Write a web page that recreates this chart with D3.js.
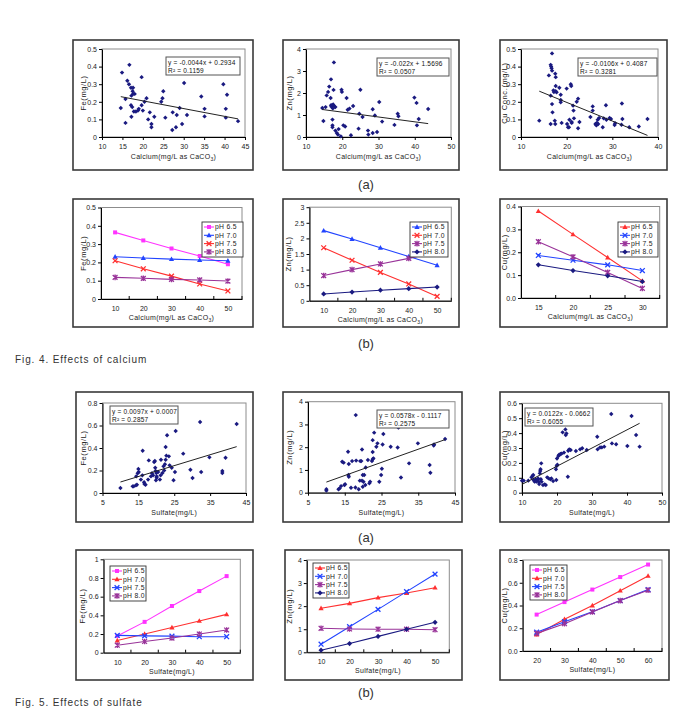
<!DOCTYPE html>
<html>
<head>
<meta charset="utf-8">
<script src="https://cdn.jsdelivr.net/npm/d3@7"></script>
<style>
  body { margin: 0; background: #fff; }
  svg text { font-family: "Liberation Sans", Arial, sans-serif; }
</style>
</head>
<body>
<div id="fig"></div>
<script>
// ---- scatter data (x, y) ----
const feCalcium = [[14.6,0.165],[14.9,0.366],[15.75,0.216],[15.75,0.08],[16.2,0.32],[16.6,0.30],[16.7,0.41],[17.1,0.28],[17.2,0.235],[17.1,0.18],[17.4,0.17],[17.2,0.115],[17.5,0.26],[17.6,0.28],[17.6,0.245],[17.8,0.145],[18.0,0.245],[18.3,0.145],[18.8,0.15],[19.0,0.16],[19.7,0.34],[19.7,0.18],[20.0,0.15],[20.4,0.20],[20.9,0.22],[21.3,0.10],[21.7,0.14],[22.1,0.074],[22.1,0.055],[22.8,0.115],[24.5,0.20],[24.8,0.22],[25.0,0.26],[25.5,0.11],[27.2,0.04],[27.3,0.14],[28.1,0.055],[28.3,0.125],[29.0,0.165],[29.6,0.074],[30.1,0.307],[30.8,0.125],[34.3,0.23],[35.1,0.16],[35.1,0.117],[39.7,0.30],[40.3,0.16],[40.3,0.11],[40.6,0.24],[43.3,0.09]];
const znCalcium = [[14.5,1.32],[14.8,0.73],[15.4,1.36],[15.7,1.89],[16.1,2.05],[16.4,2.29],[16.8,1.77],[16.9,1.44],[16.9,2.62],[17.0,1.38],[17.2,1.44],[17.3,0.79],[17.3,0.53],[17.3,0.44],[17.4,1.30],[17.5,1.48],[17.6,2.14],[17.7,3.39],[17.9,1.39],[18.1,1.36],[18.1,0.29],[18.5,0.18],[18.8,0.11],[19.0,0.36],[19.6,0.03],[19.8,2.15],[19.9,2.05],[20.3,0.53],[20.8,0.48],[21.2,1.77],[21.5,1.24],[22.0,1.29],[22.4,0.08],[23.0,1.41],[24.5,0.38],[24.7,1.06],[25.0,2.15],[25.6,0.91],[27.1,0.29],[27.2,0.11],[28.4,0.18],[28.4,1.26],[29.0,0.98],[29.6,0.23],[30.2,1.59],[31.0,0.70],[34.4,0.55],[35.3,1.06],[35.5,0.94],[39.9,1.79],[40.5,1.55],[40.6,0.53],[41.1,0.82],[43.7,1.27]];
const cuCalcium = [[14.0,0.093],[16.1,0.35],[16.5,0.074],[16.5,0.235],[16.5,0.41],[16.6,0.40],[16.7,0.39],[16.8,0.475],[16.8,0.377],[16.8,0.187],[16.9,0.14],[17.1,0.265],[17.2,0.256],[17.4,0.093],[17.5,0.074],[17.5,0.36],[17.6,0.34],[17.6,0.26],[17.6,0.29],[17.8,0.254],[18.4,0.28],[18.7,0.21],[18.7,0.24],[18.7,0.197],[18.9,0.08],[20.0,0.275],[20.1,0.074],[20.3,0.055],[20.5,0.055],[20.6,0.098],[20.9,0.30],[21.0,0.29],[21.1,0.08],[21.1,0.085],[21.4,0.178],[21.5,0.15],[21.6,0.106],[22.2,0.20],[22.5,0.218],[22.5,0.05],[22.8,0.085],[25.2,0.114],[25.7,0.174],[25.7,0.15],[26.3,0.074],[26.5,0.066],[26.6,0.08],[26.8,0.098],[26.9,0.074],[27.1,0.108],[27.9,0.055],[28.1,0.106],[28.6,0.18],[28.7,0.098],[29.4,0.108],[29.7,0.102],[30.5,0.068],[30.6,0.078],[32.0,0.07],[32.1,0.19],[32.2,0.102],[33.7,0.055],[35.8,0.06],[37.7,0.102]];
const feSulfate = [[10.0,0.044],[13.4,0.059],[13.7,0.059],[14.3,0.068],[14.4,0.148],[14.6,0.074],[14.8,0.175],[15.0,0.213],[15.1,0.187],[15.7,0.119],[16.1,0.157],[16.2,0.376],[16.6,0.095],[16.7,0.08],[17.0,0.074],[17.7,0.119],[17.9,0.29],[18.5,0.148],[18.8,0.175],[19.1,0.157],[19.4,0.275],[19.6,0.284],[19.7,0.225],[19.8,0.196],[19.9,0.113],[20.0,0.178],[20.1,0.136],[20.1,0.148],[20.5,0.187],[21.0,0.119],[21.2,0.157],[21.3,0.296],[21.7,0.178],[22.0,0.237],[22.2,0.201],[22.4,0.255],[22.6,0.409],[22.6,0.296],[22.8,0.332],[23.0,0.513],[23.5,0.326],[23.7,0.246],[24.3,0.225],[24.8,0.113],[25.2,0.187],[25.4,0.551],[27.5,0.35],[29.5,0.207],[30.1,0.133],[32.2,0.631],[32.5,0.187],[34.8,0.317],[38.4,0.196],[38.4,0.178],[39.3,0.314],[42.4,0.613]];
const znSulfate = [[10.0,0.15],[10.0,0.09],[13.3,0.15],[13.6,0.19],[14.0,0.29],[14.3,1.36],[14.7,1.32],[14.9,0.34],[15.1,0.37],[15.9,1.80],[16.0,0.78],[16.1,1.26],[16.1,0.70],[16.7,0.22],[17.0,1.39],[17.9,0.23],[18.0,3.41],[18.1,1.41],[18.8,0.15],[19.1,0.53],[19.2,1.39],[19.5,1.39],[19.7,1.90],[19.7,0.53],[19.9,0.26],[19.9,0.78],[20.1,0.48],[20.3,0.78],[20.6,0.34],[20.7,1.11],[21.3,1.44],[21.7,0.41],[21.9,0.48],[22.4,1.39],[22.6,1.47],[22.6,1.79],[22.6,2.31],[22.8,1.51],[23.0,2.64],[23.6,2.02],[23.9,2.17],[24.4,0.48],[24.9,0.78],[25.1,1.05],[25.3,2.12],[25.5,2.58],[27.5,2.02],[29.4,1.99],[29.6,2.86],[30.3,0.67],[32.5,1.29],[34.9,2.17],[38.1,1.22],[38.3,0.88],[39.2,2.07],[39.3,2.12],[42.3,2.36]];
const cuSulfate = [[10.0,0.081],[10.5,0.081],[11.8,0.081],[12.7,0.103],[13.0,0.112],[13.2,0.119],[13.3,0.085],[13.6,0.074],[13.9,0.09],[14.1,0.074],[14.4,0.085],[14.6,0.096],[14.8,0.074],[14.9,0.058],[15.1,0.13],[15.2,0.146],[15.3,0.157],[15.4,0.09],[15.5,0.197],[15.6,0.074],[16.0,0.051],[16.5,0.056],[16.8,0.051],[17.2,0.103],[17.6,0.096],[18.1,0.09],[18.4,0.096],[18.9,0.078],[19.7,0.157],[19.8,0.085],[19.9,0.179],[20.0,0.23],[20.1,0.188],[20.4,0.246],[20.6,0.255],[21.0,0.26],[21.3,0.262],[21.6,0.405],[22.0,0.269],[22.4,0.425],[22.5,0.387],[22.7,0.398],[22.9,0.242],[23.1,0.107],[23.2,0.282],[23.5,0.484],[23.5,0.291],[23.9,0.287],[25.4,0.28],[26.6,0.291],[27.2,0.298],[28.5,0.287],[31.5,0.376],[31.6,0.291],[32.3,0.304],[32.8,0.304],[33.5,0.309],[35.5,0.528],[35.7,0.331],[36.9,0.325],[40.1,0.313],[41.3,0.515],[42.6,0.387],[43.6,0.309]];

// trend lines: slope, intercept ; and their printed labels
const fitCoef = [[-0.0044,0.2934],[-0.022,1.5696],[-0.0106,0.4087],[0.0097,0.0007],[0.0578,-0.1117],[0.0122,-0.0662]];
const fitText = [
  ['y = -0.0044x + 0.2934','R² = 0.1159'],
  ['y = -0.022x + 1.5696','R² = 0.0507'],
  ['y = -0.0106x + 0.4087','R² = 0.3281'],
  ['y = 0.0097x + 0.0007','R² = 0.2857'],
  ['y = 0.0578x - 0.1117','R² = 0.2575'],
  ['y = 0.0122x - 0.0662','R² = 0.6055']
];

// ---- line chart data (pH 6.5, 7.0, 7.5, 8.0) ----
const phLabels = ['pH 6.5','pH 7.0','pH 7.5','pH 8.0'];
const calciumLevels = [10,20,30,40,50];
const calciumLevelsCu = [15,20,25,30];
const sulfateLevels = [10,20,30,40,50];
const sulfateLevelsCu = [20,30,40,50,60];

const feCaPh = [[0.364,0.320,0.276,0.235,0.190],[0.231,0.224,0.218,0.213,0.209],[0.209,0.165,0.125,0.082,0.044],[0.118,0.113,0.107,0.104,0.098]];
const znCaPh = [[2.25,1.98,1.70,1.42,1.14],[1.70,1.30,0.91,0.54,0.14],[0.81,1.00,1.18,1.36,1.56],[0.22,0.28,0.34,0.39,0.44]];
const cuCaPh = [[0.38,0.278,0.177,0.075],[0.186,0.165,0.145,0.12],[0.246,0.18,0.112,0.042],[0.145,0.12,0.097,0.072]];
const feSoPh = [[0.18,0.33,0.50,0.66,0.82],[0.13,0.20,0.27,0.34,0.41],[0.186,0.18,0.178,0.171,0.171],[0.08,0.12,0.157,0.20,0.243]];
const znSoPh = [[1.91,2.12,2.37,2.57,2.80],[0.35,1.11,1.86,2.63,3.39],[1.04,1.01,1.0,1.0,0.98],[0.09,0.38,0.69,1.0,1.30]];
const cuSoPh = [[0.32,0.43,0.54,0.65,0.76],[0.145,0.28,0.40,0.53,0.66],[0.165,0.258,0.346,0.443,0.54],[0.155,0.24,0.343,0.443,0.535]];

let width = 685, height = 709;
let svg = d3.select('#fig').append('svg')
  .attr('width', width)
  .attr('height', height)
  .style('background', '#fff');

const MAG = '#ff33ff', BLUE = '#2244ff', RED = '#ff3030', PUR = '#993399', NAVY = '#1a1a80';

// outer frame of each little chart
function frame(x0, y0, x1, y1) {
  svg.append('rect')
    .attr('x', x0).attr('y', y0)
    .attr('width', x1 - x0).attr('height', y1 - y0)
    .attr('fill', 'none').attr('stroke', '#3a3a3a').attr('stroke-width', 1.6);
}

function styleAxis(g) {
  g.select('.domain').attr('stroke', '#000');
  g.selectAll('.tick line').attr('stroke', '#000');
  g.selectAll('.tick text').attr('font-size', 7).attr('fill', '#222');
}

function yTitle(x, y, txt) {
  svg.append('text')
    .attr('transform', `translate(${x},${y}) rotate(-90)`)
    .attr('text-anchor', 'middle')
    .attr('font-size', 7.5).attr('letter-spacing', 0.6).attr('fill', '#222')
    .text(txt);
}

function xTitle(x, y, txt, sub) {
  let t = svg.append('text')
    .attr('x', x).attr('y', y)
    .attr('text-anchor', 'middle')
    .attr('font-size', 7).attr('letter-spacing', 0.3).attr('fill', '#222');
  if (sub) {
    t.append('tspan').text('Calcium(mg/L as CaCO');
    t.append('tspan').attr('font-size', 5).attr('dy', 2).text('3');
    t.append('tspan').attr('dy', -2).text(')');
  } else {
    t.text(txt);
  }
}

function marker(g, type, cx, cy, color, size) {
  let s = 2.4, d = size || 2.6;
  if (type === 'square') {
    g.append('rect').attr('x', cx - 2).attr('y', cy - 2).attr('width', 4).attr('height', 4).attr('fill', color);
  } else if (type === 'triangle') {
    g.append('path').attr('d', `M${cx},${cy - 2.7}L${cx + 2.6},${cy + 1.9}L${cx - 2.6},${cy + 1.9}Z`).attr('fill', color);
  } else if (type === 'diamond') {
    g.append('path').attr('d', `M${cx},${cy - d}L${cx + d},${cy}L${cx},${cy + d}L${cx - d},${cy}Z`).attr('fill', color);
  } else if (type === 'x') {
    g.append('path').attr('d', `M${cx - s},${cy - s}L${cx + s},${cy + s}M${cx - s},${cy + s}L${cx + s},${cy - s}`)
      .attr('stroke', color).attr('stroke-width', 1.3);
  } else if (type === 'star') {
    g.append('path').attr('d', `M${cx - s},${cy - s}L${cx + s},${cy + s}M${cx - s},${cy + s}L${cx + s},${cy - s}M${cx},${cy - 2.8}L${cx},${cy + 2.8}`)
      .attr('stroke', color).attr('stroke-width', 1.3);
  }
}

// ---- scatter panel with linear trend ----
function scatter(p) {
  let x = d3.scaleLinear().domain(p.xDomain).range([p.left, p.right]);
  let y = d3.scaleLinear().domain(p.yDomain).range([p.bottom, p.top]);

  svg.append('rect')
    .attr('x', p.left).attr('y', p.top)
    .attr('width', p.right - p.left).attr('height', p.bottom - p.top)
    .attr('fill', 'none').attr('stroke', '#8c8c8c').attr('stroke-width', 1);

  let gx = svg.append('g').attr('transform', `translate(0,${p.bottom})`)
    .call(d3.axisBottom(x).tickValues(p.xTicks).tickSize(3).tickSizeOuter(0).tickPadding(4).tickFormat(d3.format('')));
  styleAxis(gx);
  let gy = svg.append('g').attr('transform', `translate(${p.left},0)`)
    .call(d3.axisLeft(y).tickValues(p.yTicks).tickSize(3).tickSizeOuter(0).tickPadding(2).tickFormat(d3.format(p.yFmt || '')));
  styleAxis(gy);

  let g = svg.append('g');
  p.data.forEach(d => marker(g, 'diamond', x(d[0]), y(d[1]), NAVY, 2.2));

  let ext = d3.extent(p.data, d => d[0]);
  let f = v => p.fit[0] * v + p.fit[1];
  svg.append('line')
    .attr('x1', x(ext[0])).attr('y1', y(f(ext[0])))
    .attr('x2', x(ext[1])).attr('y2', y(f(ext[1])))
    .attr('stroke', '#222').attr('stroke-width', 1);

  let b = p.box;
  svg.append('rect').attr('x', b[0]).attr('y', b[1]).attr('width', b[2]).attr('height', 18)
    .attr('fill', '#fff').attr('stroke', '#555').attr('stroke-width', 1);
  p.label.forEach((t, i) => {
    svg.append('text').attr('x', b[0] + 2).attr('y', b[1] + 7.5 + i * 8)
      .attr('font-size', 6.5).attr('fill', '#111').attr('letter-spacing', 0.2).text(t);
  });

  yTitle(p.yTitleX, (p.top + p.bottom) / 2, p.yLabel);
  xTitle((p.left + p.right) / 2, p.bottom + 22, p.xLabel, p.sub);
}

// ---- line panel (categorical x) with legend ----
function linePanel(p) {
  let x = d3.scalePoint().domain(p.cats).range([p.left, p.right]).padding(0.5);
  let y = d3.scaleLinear().domain(p.yDomain).range([p.bottom, p.top]);

  svg.append('rect')
    .attr('x', p.left).attr('y', p.top)
    .attr('width', p.right - p.left).attr('height', p.bottom - p.top)
    .attr('fill', 'none').attr('stroke', '#8c8c8c').attr('stroke-width', 1);

  let gx = svg.append('g').attr('transform', `translate(0,${p.bottom})`)
    .call(d3.axisBottom(x).tickSize(0).tickPadding(7));
  styleAxis(gx);
  // category boundary ticks
  let step = x.step();
  p.cats.forEach(c => {
    svg.append('line').attr('x1', x(c) + step / 2).attr('x2', x(c) + step / 2)
      .attr('y1', p.bottom).attr('y2', p.bottom - 3).attr('stroke', '#000');
  });
  let gy = svg.append('g').attr('transform', `translate(${p.left},0)`)
    .call(d3.axisLeft(y).tickValues(p.yTicks).tickSize(3).tickSizeOuter(0).tickPadding(2).tickFormat(d3.format(p.yFmt || '')));
  styleAxis(gy);

  p.series.forEach((vals, i) => {
    let st = p.styles[i];
    let line = d3.line().x((d, j) => x(p.cats[j])).y(d => y(d));
    svg.append('path').datum(vals).attr('d', line)
      .attr('fill', 'none').attr('stroke', st[0]).attr('stroke-width', 1.1);
    let g = svg.append('g');
    vals.forEach((v, j) => marker(g, st[1], x(p.cats[j]), y(v), st[0]));
  });

  // legend
  let L = p.legend;
  svg.append('rect').attr('x', L[0]).attr('y', L[1]).attr('width', L[2]).attr('height', 35)
    .attr('fill', '#fff').attr('stroke', '#333').attr('stroke-width', 0.9);
  phLabels.forEach((t, i) => {
    let yy = L[1] + 5 + i * 8.3;
    let st = p.styles[i];
    svg.append('line').attr('x1', L[0] + 2).attr('x2', L[0] + 12).attr('y1', yy).attr('y2', yy)
      .attr('stroke', st[0]).attr('stroke-width', 1.1);
    marker(svg, st[1], L[0] + 7, yy, st[0]);
    svg.append('text').attr('x', L[0] + 13).attr('y', yy + 2.4)
      .attr('font-size', 6.8).attr('fill', '#222').attr('letter-spacing', 0.3).text(t);
  });

  yTitle(p.yTitleX, (p.top + p.bottom) / 2, p.yLabel);
  xTitle((p.left + p.right) / 2, p.bottom + 21, p.xLabel, p.sub);
}

// ---- frames ----
[[73,40,253,170],[283,40,459,170],[500,40,667,170],
 [73,199,253,327],[283,199,459,327],[500,199,667,327],
 [76,392,253,522],[283,392,462,522],[500,392,669,522],
 [76,550,253,680],[285,550,462,680],[500,550,669,680]].forEach(r => frame(...r));

// ---- Fig. 4 (a) ----
scatter({data: feCalcium, fit: fitCoef[0], label: fitText[0], left: 102, right: 245, top: 49, bottom: 137,
  xDomain: [10,45], xTicks: d3.range(10,46,5), yDomain: [0,0.5], yTicks: d3.range(0,0.51,0.1).map(v => +v.toFixed(1)),
  box: [166,57,74], yTitleX: 86, yLabel: 'Fe(mg/L)', sub: true});
scatter({data: znCalcium, fit: fitCoef[1], label: fitText[1], left: 306, right: 451, top: 49, bottom: 137,
  xDomain: [10,50], xTicks: d3.range(10,51,10), yDomain: [0,4], yTicks: [0,1,2,3,4],
  box: [377,58,72], yTitleX: 292, yLabel: 'Zn(mg/L)', sub: true});
scatter({data: cuCalcium, fit: fitCoef[2], label: fitText[2], left: 521, right: 658, top: 49, bottom: 137,
  xDomain: [10,40], xTicks: [10,20,30,40], yDomain: [0,0.5], yTicks: [0,0.1,0.2,0.3,0.4,0.5],
  box: [578,58,79], yTitleX: 507, yLabel: 'Cu Conc.(mg/L)', sub: true});

// ---- Fig. 4 (b) ----
linePanel({cats: calciumLevels, series: feCaPh, left: 101, right: 242, top: 207.5, bottom: 299,
  yDomain: [0,0.5], yTicks: [0,0.1,0.2,0.3,0.4,0.5],
  styles: [[MAG,'square'],[BLUE,'triangle'],[RED,'x'],[PUR,'star']],
  legend: [202,222,41], yTitleX: 86, yLabel: 'Fe(mg/L)', sub: true});
linePanel({cats: calciumLevels, series: znCaPh, left: 309.5, right: 451.3, top: 207.2, bottom: 300.8,
  yDomain: [0,3], yTicks: [0,0.5,1,1.5,2,2.5,3],
  styles: [[BLUE,'triangle'],[RED,'x'],[PUR,'star'],[NAVY,'diamond']],
  legend: [410,222,38], yTitleX: 291, yLabel: 'Zn(mg/L)', sub: true});
linePanel({cats: calciumLevelsCu, series: cuCaPh, left: 521, right: 659.7, top: 206.5, bottom: 298,
  yDomain: [0,0.4], yTicks: [0,0.1,0.2,0.3,0.4], yFmt: '.1f',
  styles: [[RED,'triangle'],[BLUE,'x'],[PUR,'star'],[NAVY,'diamond']],
  legend: [618,222,40], yTitleX: 507, yLabel: 'Cu(mg/L)', sub: true});

// ---- Fig. 5 (a) ----
scatter({data: feSulfate, fit: fitCoef[3], label: fitText[3], left: 102.5, right: 246, top: 403, bottom: 493,
  xDomain: [5,45], xTicks: [5,15,25,35,45], yDomain: [0,0.8], yTicks: [0,0.2,0.4,0.6,0.8],
  box: [110,406,68], yTitleX: 86, yLabel: 'Fe(mg/L)', xLabel: 'Sulfate(mg/L)'});
scatter({data: znSulfate, fit: fitCoef[4], label: fitText[4], left: 308, right: 455, top: 401.7, bottom: 492.7,
  xDomain: [5,45], xTicks: [5,15,25,35,45], yDomain: [0,4], yTicks: [0,1,2,3,4],
  box: [377,410,72], yTitleX: 292, yLabel: 'Zn(mg/L)', xLabel: 'Sulfate(mg/L)'});
scatter({data: cuSulfate, fit: fitCoef[5], label: fitText[5], left: 522, right: 662, top: 403.3, bottom: 492.7,
  xDomain: [10,50], xTicks: [10,20,30,40,50], yDomain: [0,0.6], yTicks: [0,0.1,0.2,0.3,0.4,0.5,0.6],
  box: [525,408,68], yTitleX: 507, yLabel: 'Cu(mg/L)', xLabel: 'Sulfate(mg/L)'});

// ---- Fig. 5 (b) ----
linePanel({cats: sulfateLevels, series: feSoPh, left: 103.6, right: 240.3, top: 559.3, bottom: 652.7,
  yDomain: [0,1], yTicks: [0,0.2,0.4,0.6,0.8,1],
  styles: [[MAG,'square'],[RED,'triangle'],[BLUE,'x'],[PUR,'star']],
  legend: [110,566,36], yTitleX: 85, yLabel: 'Fe(mg/L)', xLabel: 'Sulfate(mg/L)'});
linePanel({cats: sulfateLevels, series: znSoPh, left: 306.8, right: 449.3, top: 560, bottom: 652.3,
  yDomain: [0,4], yTicks: [0,1,2,3,4],
  styles: [[RED,'triangle'],[BLUE,'x'],[PUR,'star'],[NAVY,'diamond']],
  legend: [313,563,36], yTitleX: 292, yLabel: 'Zn(mg/L)', xLabel: 'Sulfate(mg/L)'});
linePanel({cats: sulfateLevelsCu, series: cuSoPh, left: 522.7, right: 662, top: 560, bottom: 651,
  yDomain: [0,0.8], yTicks: [0,0.2,0.4,0.6,0.8], yFmt: '.1f',
  styles: [[MAG,'square'],[RED,'triangle'],[BLUE,'x'],[PUR,'star']],
  legend: [530,565,37], yTitleX: 507, yLabel: 'Cu(mg/L)', xLabel: 'Sulfate(mg/L)'});

// ---- captions ----
function caption(x, y, txt, size, anchor, spacing) {
  svg.append('text').attr('x', x).attr('y', y)
    .attr('text-anchor', anchor).attr('font-size', size)
    .attr('letter-spacing', spacing).attr('fill', '#333').text(txt);
}
caption(366, 189, '(a)', 13, 'middle', 0);
caption(366, 348, '(b)', 13, 'middle', 0);
caption(15, 363, 'Fig. 4. Effects of calcium', 10, 'start', 0.9);
caption(366, 542, '(a)', 13, 'middle', 0);
caption(366, 697, '(b)', 13, 'middle', 0);
caption(15, 706, 'Fig. 5. Effects of sulfate', 10, 'start', 0.9);
</script>
</body>
</html>
